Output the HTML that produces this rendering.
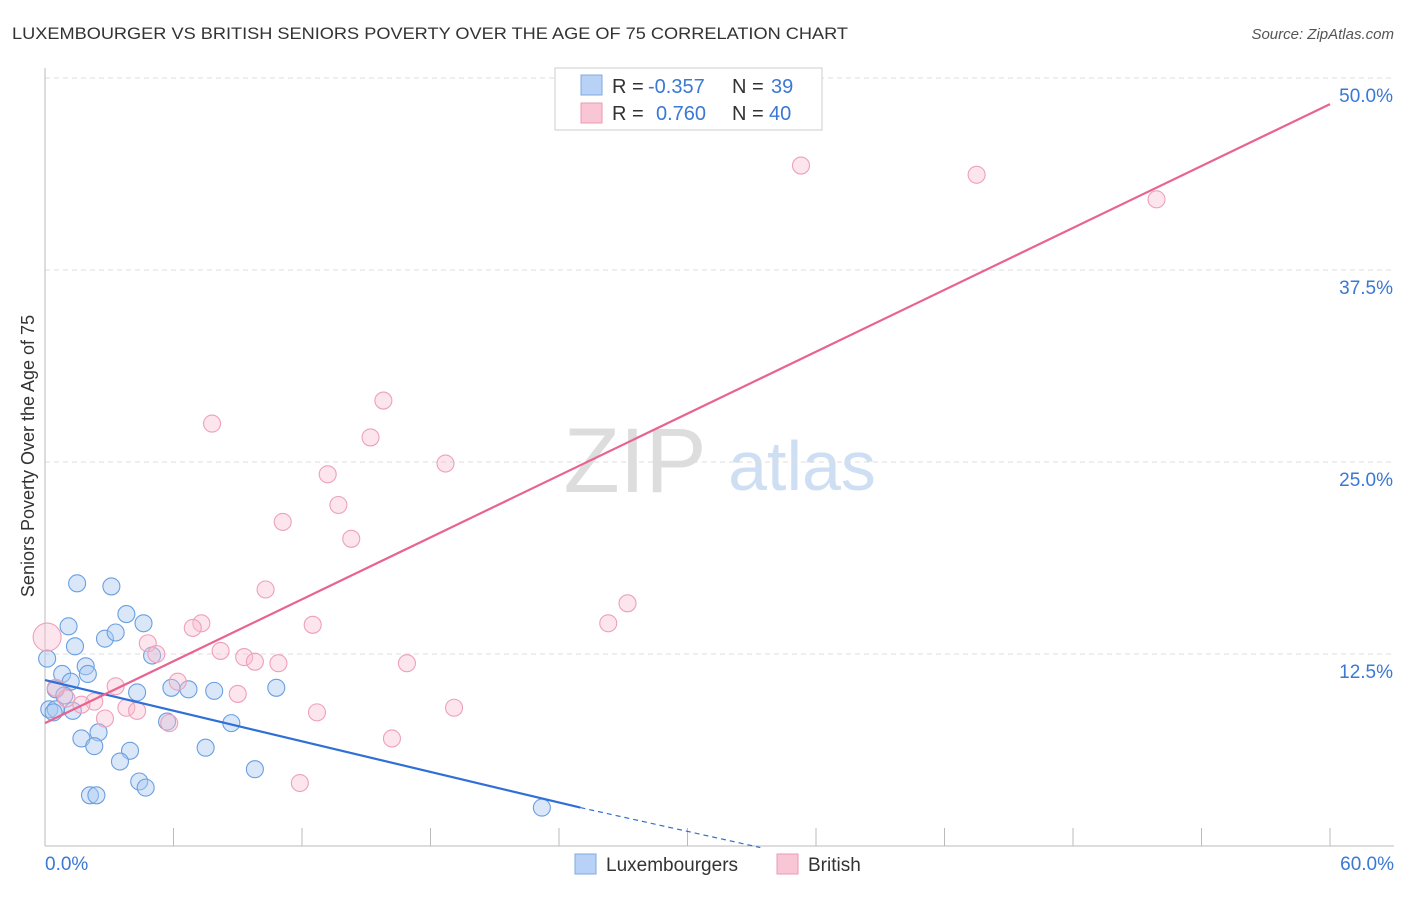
<!DOCTYPE html>
<html><head><meta charset="utf-8"><style>
body{margin:0;background:#fff;font-family:"Liberation Sans",sans-serif}
svg text{font-family:"Liberation Sans",sans-serif}
</style></head><body>
<svg id="chart" width="1406" height="892">
<text x="12" y="39" font-size="17" fill="#333" textLength="836" lengthAdjust="spacingAndGlyphs">LUXEMBOURGER VS BRITISH SENIORS POVERTY OVER THE AGE OF 75 CORRELATION CHART</text>
<text x="1394" y="39" font-size="15" fill="#555" font-style="italic" text-anchor="end">Source: ZipAtlas.com</text>
<text x="635" y="492" font-size="92" fill="#ddd" font-family="Liberation Serif" text-anchor="middle">ZIP</text>
<text x="802" y="490" font-size="70" fill="#cfdff3" text-anchor="middle">atlas</text>
<g id="grid"></g>
<line x1="45" y1="68" x2="45" y2="846" stroke="#bbb"/>
<line x1="45" y1="846" x2="1394" y2="846" stroke="#bbb"/>
<g id="xticks"></g>
<text x="34" y="456" font-size="18" fill="#333" text-anchor="middle" transform="rotate(-90 34 456)">Seniors Poverty Over the Age of 75</text>
<text x="45" y="870" font-size="19" fill="#3a78d4">0.0%</text>
<text x="1394" y="870" font-size="19" fill="#3a78d4" text-anchor="end">60.0%</text>
<g id="pts"></g>
<g id="lines"></g>
<g>
<rect x="555" y="68" width="267" height="62" fill="#fff" stroke="#ccc"/>
<rect x="581" y="75" width="21" height="20" fill="#b7d2f6" stroke="#7fa9e3"/>
<rect x="581" y="103" width="21" height="20" fill="#f9c6d6" stroke="#eb9ab4"/>
<text x="612" y="93" font-size="20" fill="#333">R =</text>
<text x="648" y="93" font-size="20" fill="#3a78d4">-0.357</text>
<text x="732" y="93" font-size="20" fill="#333">N =</text>
<text x="771" y="93" font-size="20" fill="#3a78d4">39</text>
<text x="612" y="120" font-size="20" fill="#333">R =</text>
<text x="656" y="120" font-size="20" fill="#3a78d4">0.760</text>
<text x="732" y="120" font-size="20" fill="#333">N =</text>
<text x="769" y="120" font-size="20" fill="#3a78d4">40</text>
</g>
<g>
<rect x="575" y="854" width="21" height="20" fill="#b7d2f6" stroke="#7fa9e3"/>
<text x="606" y="871" font-size="19" fill="#333">Luxembourgers</text>
<rect x="777" y="854" width="21" height="20" fill="#f9c6d6" stroke="#eb9ab4"/>
<text x="808" y="871" font-size="19" fill="#333">British</text>
</g>
</svg>
<script>
const yTicks=[12.5,25,37.5,50];
const yTickLabels=["12.5%","25.0%","37.5%","50.0%"];
const luxX=[1.5,3.1,3.8,1.1,4.6,2.8,3.3,1.4,5.0,0.1,1.9,2.0,0.8,1.2,0.5,0.9,4.3,5.9,6.7,7.9,10.8,0.2,0.5,1.3,5.7,8.7,1.7,2.5,2.3,7.5,3.97,3.5,9.8,4.4,4.7,2.1,2.4,23.2,0.4];
const luxY=[17.1,16.9,15.1,14.3,14.5,13.5,13.9,13.0,12.4,12.2,11.7,11.2,11.2,10.7,10.2,9.8,10.0,10.3,10.2,10.1,10.3,8.9,8.9,8.8,8.1,8.0,7.0,7.4,6.5,6.4,6.2,5.5,5.0,4.2,3.8,3.3,3.3,2.5,8.7];
const briX=[35.3,43.5,51.9,7.8,15.8,15.2,13.2,18.7,13.7,11.1,14.3,10.3,27.2,26.3,12.5,7.3,6.9,4.8,5.2,8.2,9.3,9.8,10.9,16.9,0.1,0.5,1.0,3.3,9.0,6.2,2.3,1.7,3.8,4.3,2.8,5.8,12.7,19.1,16.2,11.9];
const briY=[44.3,43.7,42.1,27.5,29.0,26.6,24.2,24.9,22.2,21.1,20.0,16.7,15.8,14.5,14.4,14.5,14.2,13.2,12.5,12.7,12.3,12.0,11.9,11.9,13.6,10.3,9.6,10.4,9.9,10.7,9.4,9.2,9.0,8.8,8.3,8.0,8.7,9.0,7.0,4.1];
const luxLine=[0,10.8,25,2.5,33.4,-0.1];
const briLine=[0,8.0,60,48.3];
const X=v=>45+v/60*1285, Y=v=>846-v/12.5*192;
const ns="http://www.w3.org/2000/svg";
function mk(t,a,p){const e=document.createElementNS(ns,t);for(const k in a)e.setAttribute(k,a[k]);document.getElementById(p).appendChild(e);return e;}
yTicks.forEach((t,i)=>{
 const l=mk('line',{x1:45,x2:1394,y1:Y(t),y2:Y(t),stroke:'#ddd','stroke-dasharray':'5,4'},'grid');
 
 
 const tx=mk('text',{x:1393,y:Y(t)+24,'font-size':19,fill:'#3a78d4','text-anchor':'end'},'grid');
 tx.textContent=yTickLabels[i];
 
 
});
for(let i=1;i<=10;i++){const x=45+i*128.5;
 const l=mk('line',{x1:x,x2:x,y1:828,y2:846,stroke:'#bbb'},'xticks');
 
 }
luxX.forEach((v,i)=>{const c=mk('circle',{cx:X(v),cy:Y(luxY[i]),r:8.5,fill:'rgba(170,202,242,0.45)',stroke:'#6a9fe0','stroke-width':1.1},'pts');
 
 });
briX.forEach((v,i)=>{const c=mk('circle',{cx:X(v),cy:Y(briY[i]),r:i==24?14:8.5,fill:'rgba(248,190,208,0.4)',stroke:'#eea0ba','stroke-width':1.1},'pts');
 
 });
let l1=mk('line',{x1:X(luxLine[0]),y1:Y(luxLine[1]),x2:X(luxLine[2]),y2:Y(luxLine[3]),stroke:'#2f6fd6','stroke-width':2.2},'lines');


let l2=mk('line',{x1:X(luxLine[2]),y1:Y(luxLine[3]),x2:X(luxLine[4]),y2:Y(luxLine[5]),stroke:'#2f6fd6','stroke-width':1.2,'stroke-dasharray':'5,4'},'lines');


let l3=mk('line',{x1:X(briLine[0]),y1:Y(briLine[1]),x2:X(briLine[2]),y2:Y(briLine[3]),stroke:'#e8648f','stroke-width':2.2},'lines');


</script>
</body></html>
